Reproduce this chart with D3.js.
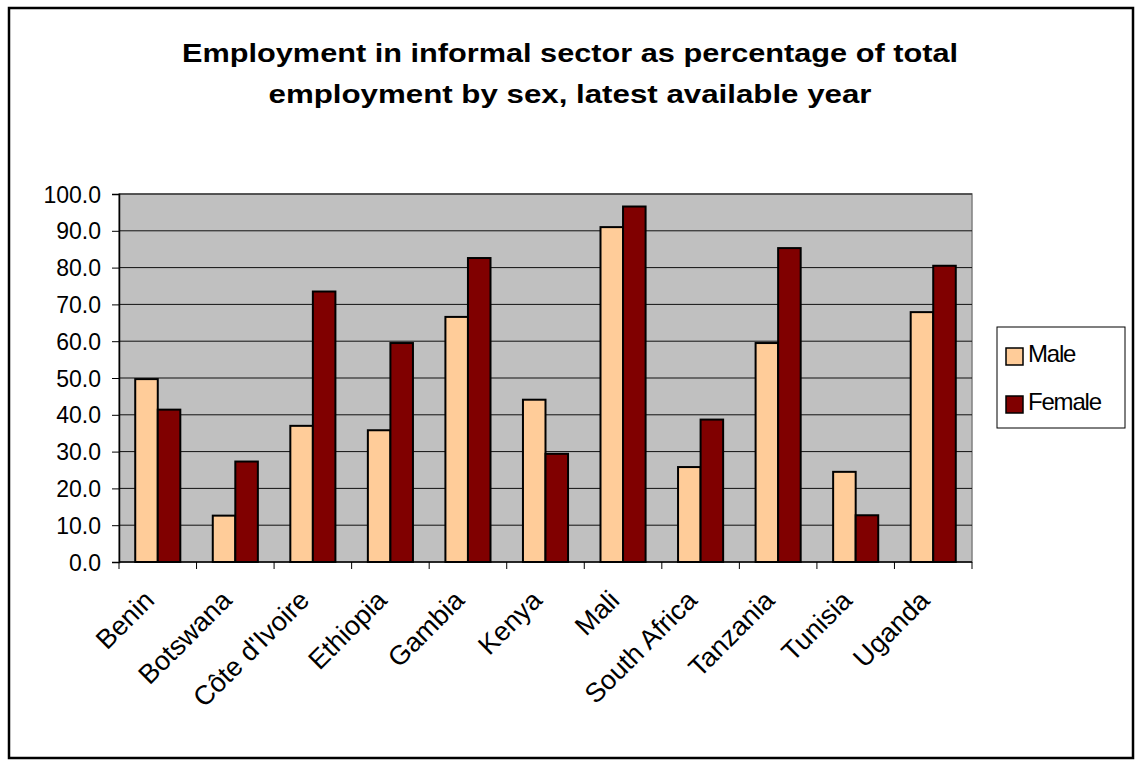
<!DOCTYPE html>
<html lang="en">
<head>
    <meta charset="UTF-8">
    <title>Employment in informal sector by sex</title>
    <script src="https://d3js.org/d3.v7.min.js"></script>
    <style>
        body { margin: 0; background: #fff; }
        text { font-family: Arial, "Liberation Sans", sans-serif; fill: #000; }
        .title { font-size: 25px; font-weight: bold; text-anchor: middle; }
        .axis text { font-size: 23px; }
        .axis text.xlabel { font-size: 27px; }
        .legend text { font-size: 24px; }
    </style>
</head>
<body>
<svg width="1136" height="761"></svg>
<script>
    // Data
    const countries = ["Benin", "Botswana", "Côte d'Ivoire", "Ethiopia", "Gambia", "Kenya",
        "Mali", "South Africa", "Tanzania", "Tunisia", "Uganda"];
    const male = [49.7, 12.6, 37.0, 35.8, 66.6, 44.1, 91.0, 25.8, 59.5, 24.5, 67.9];
    const female = [41.4, 27.3, 73.5, 59.5, 82.6, 29.4, 96.6, 38.7, 85.3, 12.7, 80.5];
    const seriesNames = ["Male", "Female"];
    const colors = ["#FFCC99", "#800000"];
    const yTicks = [0, 10, 20, 30, 40, 50, 60, 70, 80, 90, 100];
    const titleLines = ["Employment in informal sector as percentage of total",
        "employment by sex, latest available year"];

    const svg = d3.select("svg");

    // Outer chart frame
    svg.append("rect")
        .attr("x", 9).attr("y", 8)
        .attr("width", 1124).attr("height", 750)
        .attr("fill", "#fff")
        .attr("stroke", "#000")
        .attr("stroke-width", 2.5);

    // Title (glyphs are a bit stretched in the original, so fit widths)
    const titleWidths = [776, 603];
    const title = svg.append("text").attr("class", "title");
    title.selectAll("tspan")
        .data(titleLines)
        .join("tspan")
        .attr("x", 570)
        .attr("y", (d, i) => 62 + i * 41)
        .attr("textLength", (d, i) => titleWidths[i])
        .attr("lengthAdjust", "spacingAndGlyphs")
        .text(d => d);

    const plot = { left: 119, top: 194, right: 972, bottom: 562 };

    const x = d3.scaleBand()
        .domain(countries)
        .range([plot.left, plot.right]);

    const x1 = d3.scaleBand()
        .domain(seriesNames)
        .range([0, x.bandwidth()])
        .paddingInner(0)
        .paddingOuter(0.72);

    const y = d3.scaleLinear()
        .domain([0, 100])
        .range([plot.bottom, plot.top]);

    // Plot background
    svg.append("rect")
        .attr("x", plot.left).attr("y", plot.top)
        .attr("width", plot.right - plot.left)
        .attr("height", plot.bottom - plot.top)
        .attr("fill", "#C0C0C0")
        .attr("stroke", "#808080")
        .attr("stroke-width", 1.5);

    // Gridlines
    svg.append("g")
        .selectAll("line")
        .data(yTicks.filter(d => d > 0))
        .join("line")
        .attr("x1", plot.left).attr("x2", plot.right)
        .attr("y1", d => y(d)).attr("y2", d => y(d))
        .attr("stroke", "#111")
        .attr("stroke-width", 1);

    // Bars
    const data = countries.map((c, i) => ({ country: c, values: [male[i], female[i]] }));

    svg.append("g")
        .selectAll("g")
        .data(data)
        .join("g")
        .attr("transform", d => `translate(${x(d.country)},0)`)
        .selectAll("rect")
        .data(d => d.values.map((v, j) => ({ key: seriesNames[j], value: v, color: colors[j] })))
        .join("rect")
        .attr("x", d => x1(d.key))
        .attr("y", d => y(d.value))
        .attr("width", x1.bandwidth())
        .attr("height", d => y(0) - y(d.value))
        .attr("fill", d => d.color)
        .attr("stroke", "#000")
        .attr("stroke-width", 2);

    // Y axis
    const yAxis = svg.append("g")
        .attr("class", "axis")
        .attr("transform", `translate(${plot.left},0)`)
        .call(d3.axisLeft(y).tickValues(yTicks).tickFormat(d3.format(".1f")).tickSize(7).tickPadding(11));
    yAxis.select(".domain").attr("stroke", "#000").attr("stroke-width", 1.5);
    yAxis.selectAll(".tick line").attr("stroke", "#000");
    yAxis.selectAll(".tick text").attr("dy", "0.35em");

    // X axis line and ticks between categories
    const xAxis = svg.append("g").attr("class", "axis");
    xAxis.append("line")
        .attr("x1", plot.left).attr("x2", plot.right)
        .attr("y1", plot.bottom).attr("y2", plot.bottom)
        .attr("stroke", "#000").attr("stroke-width", 1.5);
    xAxis.selectAll(".xtick")
        .data(countries.concat([null]))
        .join("line")
        .attr("class", "xtick")
        .attr("x1", (d, i) => plot.left + i * x.step())
        .attr("x2", (d, i) => plot.left + i * x.step())
        .attr("y1", plot.bottom).attr("y2", plot.bottom + 7)
        .attr("stroke", "#000");

    xAxis.selectAll(".xlabel")
        .data(countries)
        .join("text")
        .attr("class", "xlabel")
        .attr("text-anchor", "end")
        .attr("transform", d => `translate(${x(d) + x.bandwidth() / 2 - 2},${plot.bottom + 40}) rotate(-45)`)
        .text(d => d);

    // Legend
    const legend = svg.append("g").attr("class", "legend");
    legend.append("rect")
        .attr("x", 997).attr("y", 327)
        .attr("width", 128).attr("height", 101)
        .attr("fill", "#fff")
        .attr("stroke", "#000")
        .attr("stroke-width", 1);

    const items = legend.selectAll(".item")
        .data(seriesNames)
        .join("g")
        .attr("class", "item")
        .attr("transform", (d, i) => `translate(1006,${348 + i * 48})`);
    items.append("rect")
        .attr("width", 17).attr("height", 17)
        .attr("fill", (d, i) => colors[i])
        .attr("stroke", "#000")
        .attr("stroke-width", 1.5);
    items.append("text")
        .attr("x", 22).attr("y", 14)
        .style("letter-spacing", "-1.2px")
        .text(d => d);
</script>
</body>
</html>
